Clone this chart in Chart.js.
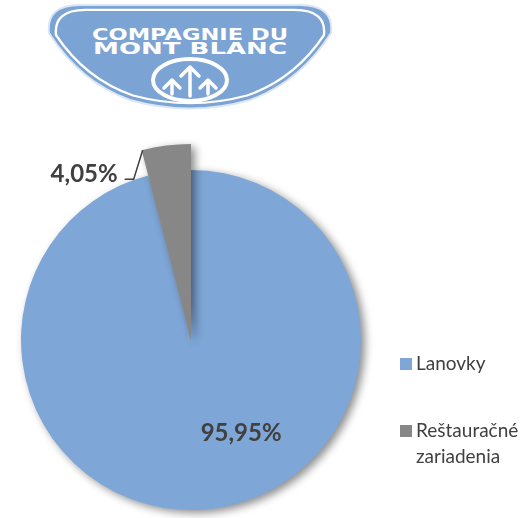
<!DOCTYPE html>
<html><head><meta charset="utf-8">
<script src="https://cdn.jsdelivr.net/npm/chart.js@4"></script>
<style>
html,body{margin:0;padding:0;background:#fff;width:527px;height:518px;overflow:hidden;font-family:Lato,"Open Sans",sans-serif;}
#logo{position:absolute;left:0;top:0;}
#pie{position:absolute;left:0;top:0;}
.leg{position:absolute;left:400px;color:#404040;font-size:19px;line-height:26px;}
.leg i{position:absolute;left:0;top:8px;width:12px;height:12px;}
.leg span{display:block;margin-left:16px;}
</style></head>
<body>
<svg id="logo" width="527" height="120" viewBox="0 0 527 120">
  <path d="M 80 5 L 300 5 Q 334 5 331 33 Q 300 82 250 100 Q 190 117 130 100 Q 80 82 49 33 Q 46 5 80 5 Z" fill="#7BA3D3" stroke="#dbe6f3" stroke-width="2"/>
  <path d="M 80 5 L 300 5 Q 334 5 331 33 Q 300 82 250 100 Q 190 117 130 100 Q 80 82 49 33 Q 46 5 80 5 Z" fill="none" stroke="#ffffff" stroke-width="2.5" transform="translate(190 55) scale(0.95 0.9) translate(-190 -55)"/>
  <text x="92" y="40" font-family="DejaVu Sans" font-weight="bold" font-size="16" fill="#ffffff" textLength="196" lengthAdjust="spacingAndGlyphs">COMPAGNIE DU</text>
  <text x="93" y="54" font-family="DejaVu Sans" font-weight="bold" font-size="16" fill="#ffffff" textLength="194" lengthAdjust="spacingAndGlyphs">MONT BLANC</text>
  <ellipse cx="190" cy="80" rx="37" ry="21" fill="none" stroke="#ffffff" stroke-width="4"/>
  <g stroke="#ffffff" stroke-width="3.5" fill="none" stroke-linecap="round" stroke-linejoin="round">
    <polyline points="181,76 190,67 199,76"/><line x1="190" y1="68" x2="190" y2="96"/>
    <polyline points="164,88 172,80 180,88"/><line x1="172" y1="81" x2="172" y2="94"/>
    <polyline points="200,88 208,80 216,88"/><line x1="208" y1="81" x2="208" y2="94"/>
  </g>
</svg>
<canvas id="pie" width="527" height="518"></canvas>
<div id="legend"></div>
<script>
const categories = ['Lanovky', 'Reštauračné zariadenia'];
const legendLines = [['Lanovky'], ['Reštauračné', 'zariadenia']];
const shares = [95.95, 4.05];
const valueLabels = ['95,95%', '4,05%'];
const colors = ['#7EA6D6', '#878787'];

// HTML legend built from the data arrays
const legendTops = [350, 417];
const legEl = document.getElementById('legend');
categories.forEach((c, i) => {
  const d = document.createElement('div');
  d.className = 'leg';
  d.style.top = legendTops[i] + 'px';
  const sw = document.createElement('i');
  sw.style.background = colors[i];
  d.appendChild(sw);
  legendLines[i].forEach(t => { const s = document.createElement('span'); s.textContent = t; d.appendChild(s); });
  legEl.appendChild(d);
});

const deco = {
  id: 'deco',
  afterDatasetsUpdate(chart) {
    const m = chart.getDatasetMeta(0);
    m.data[1].outerRadius = m.data[0].outerRadius + 26;
  },
  beforeDatasetsDraw(chart) {
    const c = chart.ctx;
    c.save();
    c.shadowColor = 'rgba(0,0,0,0.45)';
    c.shadowBlur = 8;
    c.shadowOffsetX = 4;
    c.shadowOffsetY = 3;
  },
  afterDatasetsDraw(chart) {
    const c = chart.ctx;
    c.restore();
    const m = chart.getDatasetMeta(0);
    const a0 = m.data[0], a1 = m.data[1];
    c.save();
    c.fillStyle = '#404040';
    c.font = 'bold 24px Lato, "Open Sans", sans-serif';
    c.textBaseline = 'middle';
    c.textAlign = 'center';
    const r0 = a0.outerRadius;
    c.fillText(valueLabels[0], a0.x + r0 * 0.295, a0.y + r0 * 0.55);
    // leader for small slice
    const R = a1.outerRadius;
    const px = a1.x + R * Math.cos(a1.startAngle);
    const py = a1.y + R * Math.sin(a1.startAngle);
    c.strokeStyle = '#404040';
    c.lineWidth = 1.5;
    c.beginPath();
    c.moveTo(px + 1, py);
    c.lineTo(px - 8, py + 29);
    c.lineTo(px - 17, py + 29);
    c.stroke();
    c.textAlign = 'right';
    c.fillText(valueLabels[1], px - 24, py + 24);
    c.restore();
  }
};

new Chart(document.getElementById('pie'), {
  type: 'pie',
  data: {
    labels: categories,
    datasets: [{ data: shares, backgroundColor: colors, borderWidth: 0 }]
  },
  options: {
    responsive: false,
    animation: false,
    radius: 170,
    layout: { padding: { left: 0, right: 145, top: 162, bottom: 0 } },
    plugins: { legend: { display: false }, tooltip: { enabled: false } }
  },
  plugins: [deco]
});
</script>
</body></html>
